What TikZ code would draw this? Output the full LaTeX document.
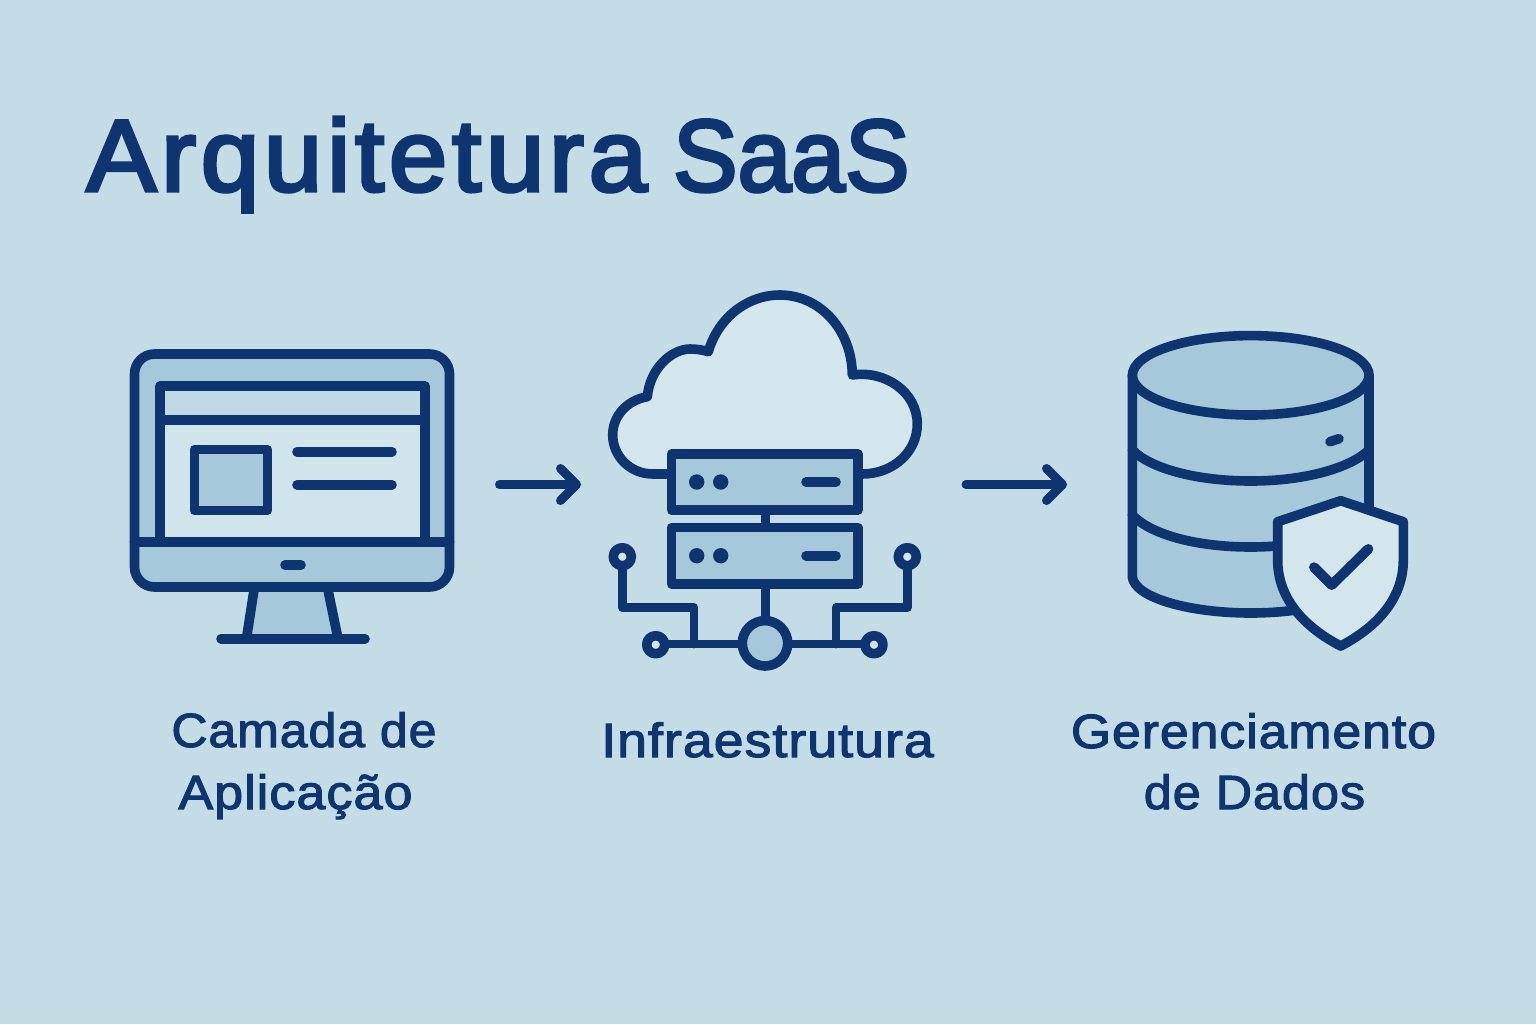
\documentclass[tikz,border=0pt]{standalone}
\usepackage{fontspec}
\usetikzlibrary{arrows.meta}
\setmainfont{Liberation Sans}
\newfontfamily\titlefont[FakeBold=3.4,FakeStretch=1.03]{Liberation Sans}
\newfontfamily\titlewide[FakeBold=3.4,LetterSpace=4.6,FakeStretch=1.03]{Liberation Sans}
\newfontfamily\labelfont[FakeBold=2.2,LetterSpace=2]{Liberation Sans}
\definecolor{bgc}{HTML}{C3DCE6}
\definecolor{ink}{HTML}{0F3570}
\definecolor{midc}{HTML}{A5C8DA}
\definecolor{palec}{HTML}{D3E6EE}
\definecolor{barc}{HTML}{BFDAE5}
\tikzset{
 x=0.5pt,y=-0.5pt,
 ic/.style={draw=ink,line width=4.8pt,line join=round,line cap=round},
 wire/.style={draw=ink,line width=4.4pt,line join=round,line cap=butt},
 titletext/.style={inner sep=0,anchor=base west,text=ink,font=\titlefont\fontsize{51}{51}\selectfont},
 labeltext/.style={inner sep=0,anchor=base,text=ink,font=\labelfont\fontsize{24}{24}\selectfont},
 flow/.style={draw=ink,line width=4.5pt,line cap=round,line join=round,-{Straight Barb[length=8pt,width=16pt,line width=4.5pt,round]}},
}
\begin{document}
\begin{tikzpicture}
\useasboundingbox (0,0) rectangle (1536,1024);
\fill[bgc] (0,0) rectangle (1536,1024);
% title
\node[titletext] (title) at (86,191) {{\titlewide\fontsize{51}{51}\selectfont Arquitetura }\kern-4pt\scalebox{0.92}[1]{SaaS}};
% monitor
\path[fill=midc] (134.5,374) arc[start angle=180,end angle=270,radius=20] -- (429.5,354) arc[start angle=270,end angle=360,radius=20] -- (449.5,567) arc[start angle=0,end angle=90,radius=20] -- (154.5,587) arc[start angle=90,end angle=180,radius=20] -- cycle;
\fill[midc] (254,592) -- (246.7,635) -- (337.7,635) -- (328,592) -- cycle;
\fill[barc] (160,386) rectangle (424.7,420);
\fill[palec!80!bgc] (160,420) rectangle (424.7,542);
\draw[ic] (160,542) -- (160,386) -- (424.7,386) -- (424.7,542);
\draw[ic] (160,420) -- (424.7,420);
\draw[ic,fill=midc] (194.5,449.5) rectangle (267.5,510.5);
\draw[ic] (297,451.7) -- (392,451.7);
\draw[ic] (297,484.7) -- (392,484.7);
\draw[ic] (134.5,542) -- (449.5,542);
\draw[ic] (285,565) -- (301,565);
\draw[ic] (134.5,374) arc[start angle=180,end angle=270,radius=20] -- (429.5,354) arc[start angle=270,end angle=360,radius=20] -- (449.5,567) arc[start angle=0,end angle=90,radius=20] -- (154.5,587) arc[start angle=90,end angle=180,radius=20] -- cycle;
\draw[ic] (254,590) -- (246.7,637);
\draw[ic] (328,590) -- (337.7,637);
\draw[ic] (221,638.7) -- (365,638.7);
% cloud
\draw[ic,fill=palec] (667.3,474) -- (653,474)
  .. controls (630,474) and (612.7,456) .. (612.7,435)
  .. controls (612.7,415) and (628,400) .. (647.3,396.7)
  .. controls (650,368) and (672,349) .. (690,349)
  .. controls (697,349) and (703,350) .. (708.3,351.7)
  .. controls (718,318) and (747,295) .. (780,295)
  .. controls (820,295) and (852,330) .. (852.3,375)
  .. controls (885,370) and (917.3,392) .. (917.3,424)
  .. controls (917.3,452) and (893,474) .. (862,474) -- cycle;
% servers
\draw[ic,fill=midc] (671.5,454) rectangle (858,510);
\draw[ic,fill=midc] (671.5,527.5) rectangle (858,584);
\draw[wire] (765.3,510) -- (765.3,527.5);
\foreach \yy in {482,555.7}{
 \fill[ink] (696.7,\yy) circle[radius=7.7];
 \fill[ink] (720.7,\yy) circle[radius=7.7];
 \draw[ic] (806,\yy) -- (836,\yy);
}
% network
\draw[wire] (765.3,584) -- (765.3,625);
\draw[wire] (655.7,644) -- (874,644);
\draw[wire,line cap=round] (622.3,565) -- (622.3,607.7) -- (694,607.7) -- (694,644);
\draw[wire,line cap=round] (907.3,565) -- (907.3,607.7) -- (836,607.7) -- (836,644);
\draw[ic,fill=midc] (765,643.3) circle[radius=22.7];
\draw[ic,fill=palec] (655.7,644.7) circle[radius=9];
\draw[ic,fill=palec] (874,644.7) circle[radius=9];
\draw[ic,fill=palec] (622.3,556.7) circle[radius=9];
\draw[ic,fill=palec] (907.3,556.7) circle[radius=9];
% database
\fill[midc] (1132.3,375) -- (1132.3,577) .. controls (1135,598) and (1190,613) .. (1250.7,613) .. controls (1310,613) and (1366,598) .. (1369,577) -- (1369,375) -- cycle;
\draw[ic] (1132.3,375) -- (1132.3,577) .. controls (1135,598) and (1190,613) .. (1250.7,613) .. controls (1310,613) and (1366,598) .. (1369,577) -- (1369,375);
\draw[ic] (1132.3,450) .. controls (1150,468) and (1195,481) .. (1250.7,481) .. controls (1305,481) and (1350,468) .. (1369,450);
\draw[ic] (1132.3,515) .. controls (1150,534) and (1195,547) .. (1250.7,547) .. controls (1305,547) and (1350,534) .. (1369,515);
\draw[ic,fill=midc] (1250.7,375.3) ellipse[x radius=118.3,y radius=39.7];
\draw[ic] (1330,441.7) -- (1339,438.7);
% shield
\draw[ic,fill=palec] (1340.7,500.7) -- (1403.3,521.7) -- (1403.3,560)
  .. controls (1403.3,600) and (1375,628) .. (1340.7,646)
  .. controls (1306,628) and (1277.7,600) .. (1277.7,560) -- (1277.7,521.7) -- cycle;
\draw[ic,line width=5pt] (1314,567.3) -- (1331.7,585) -- (1368.3,549);
% arrows
\coordinate (a1s) at (499.5,484.5);
\coordinate (a1e) at (581,484.5);
\coordinate (a2s) at (966,484.5);
\coordinate (a2e) at (1067,484.5);
\draw[flow] (a1s) -- (a1e);
\draw[flow] (a2s) -- (a2e);
% labels
\node[labeltext] (l1a) at (304,747) {\scalebox{1.04}[1]{Camada de}};
\node[labeltext] (l1b) at (295.5,809) {\scalebox{1.085}[1]{Aplicação}};
\node[labeltext] (l2) at (767.5,757) {\scalebox{1.116}[1]{Infraestrutura}};
\node[labeltext] (l3a) at (1253.5,748) {\scalebox{1.075}[1]{Gerenciamento}};
\node[labeltext] (l3b) at (1254.5,809) {\scalebox{1.048}[1]{de Dados}};
\end{tikzpicture}
\end{document}
